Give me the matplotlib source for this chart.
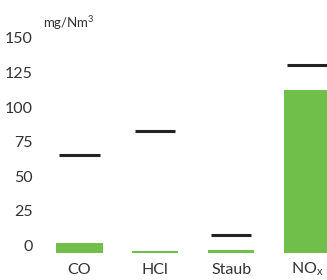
import matplotlib
matplotlib.use('Agg')
import matplotlib.pyplot as plt

# Daten (mg/Nm³)
categories = ['CO', 'HCl', 'Staub', r'NO$_\mathregular{x}$']
measured = [7, 1.5, 2, 118]
limits = [71, 88, 13, 136]
yticks = [0, 25, 50, 75, 100, 125, 150]

GREEN = '#71bf4b'
DARK = '#222222'
TEXT = '#333333'

plt.rcParams['font.family'] = ['Lato', 'DejaVu Sans']

fig = plt.figure(figsize=(3.27, 2.8), dpi=100)
# Achse: links 40px, rechts bis Bildrand, Nulllinie bei 253px
ax = fig.add_axes([40 / 327, 27 / 280, 287 / 327, 223 / 280])

x = list(range(len(categories)))
ax.bar(x, measured, width=0.607, color=GREEN, linewidth=0)
ax.hlines(limits, [i - 0.264 for i in x], [i + 0.264 for i in x],
          colors=DARK, linewidth=2.2)

ax.set_xlim(-0.521, 3.265)
ax.set_ylim(0, 161.1)
for s in ax.spines.values():
    s.set_visible(False)
ax.set_xticks([])
ax.set_yticks([])

# y-Beschriftung (Text sitzt knapp auf dem Wert)
tr = matplotlib.transforms.blended_transform_factory(fig.transFigure, ax.transData)
for v in yticks:
    ax.text(33 / 327, v - 0.7, str(v), transform=tr, ha='right', va='bottom',
            fontsize=11.5, color=TEXT)

fig.text(43 / 327, 1 - 28 / 280, 'mg/Nm$^\\mathregular{3}$', ha='left', va='baseline',
         fontsize=9.5, color=TEXT)

# x-Beschriftung
for i, c in enumerate(categories):
    ax.text(i, -12, c, ha='center', va='center', fontsize=11.5, color=TEXT,
            clip_on=False)

fig.savefig('out.png', dpi=100)
